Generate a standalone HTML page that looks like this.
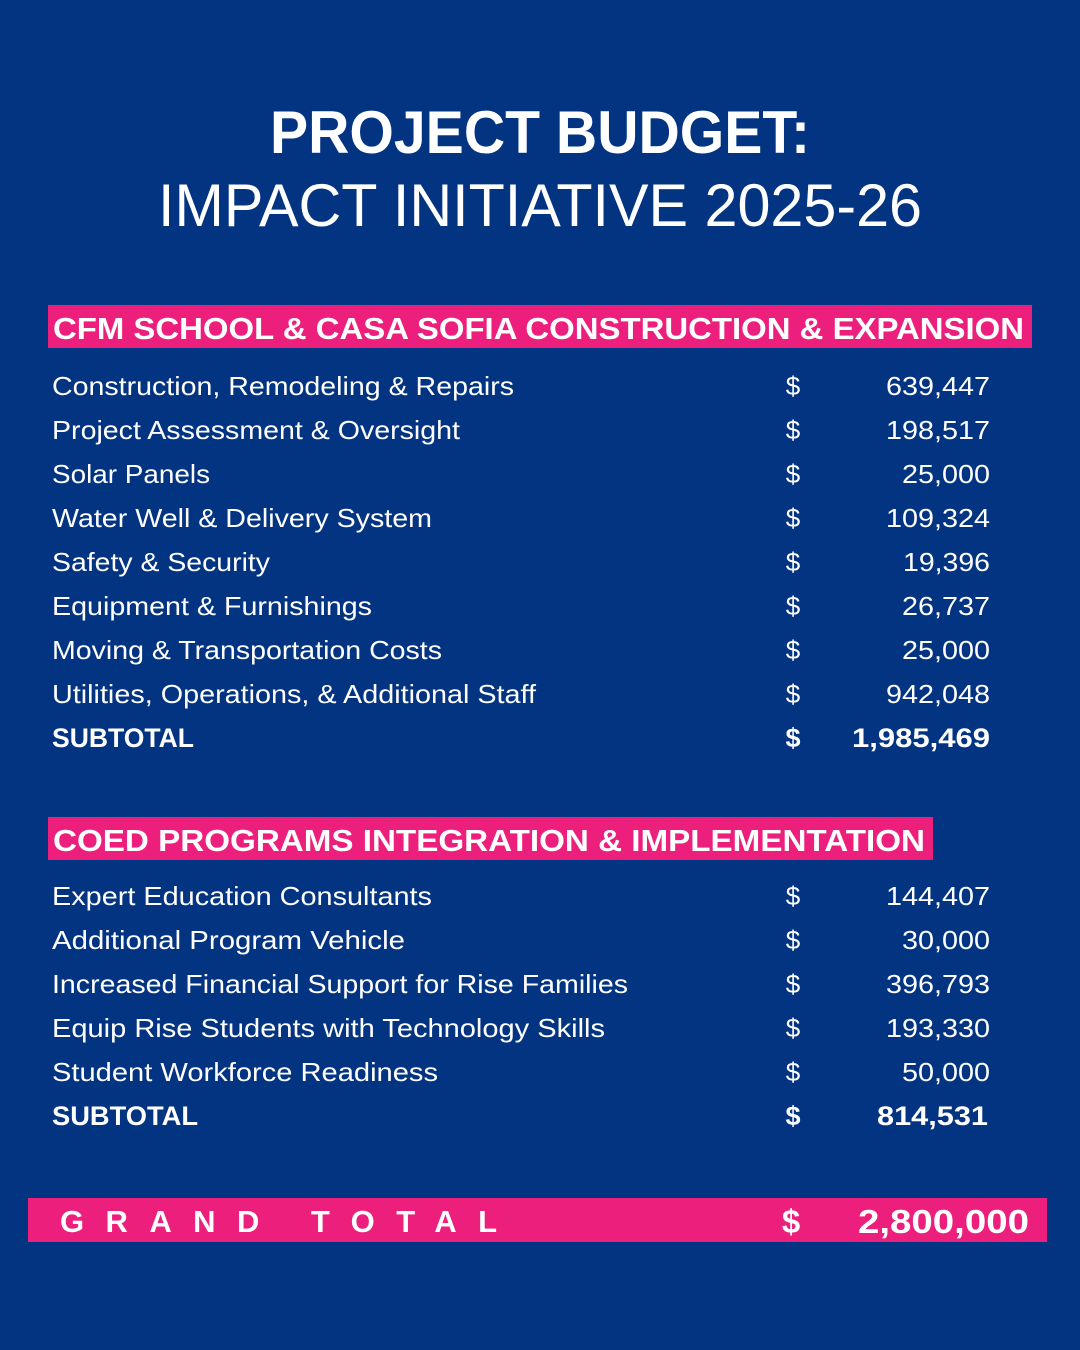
<!DOCTYPE html>
<html><head><meta charset="utf-8"><style>
html,body{margin:0;padding:0;background:#023482;}
svg{display:block}
text{font-family:"Liberation Sans",sans-serif;fill:#fff}
.r{font-size:26px}
.b{font-size:27px;font-weight:bold}
</style></head><body>
<svg width="1080" height="1350" viewBox="0 0 1080 1350">
<rect width="1080" height="1350" fill="#023482"/>
<text x="540" y="153" text-anchor="middle" font-size="60" font-weight="bold" textLength="540" lengthAdjust="spacingAndGlyphs">PROJECT BUDGET:</text>
<text x="540" y="226" text-anchor="middle" font-size="60" textLength="764" lengthAdjust="spacingAndGlyphs">IMPACT INITIATIVE 2025-26</text>

<rect x="48" y="305" width="984" height="43" fill="#EC1F7D"/>
<text x="53" y="339" font-size="31" font-weight="bold" textLength="971" lengthAdjust="spacingAndGlyphs">CFM SCHOOL &amp; CASA SOFIA CONSTRUCTION &amp; EXPANSION</text>

<g class="r">
<text x="52" y="395" textLength="462" lengthAdjust="spacingAndGlyphs">Construction, Remodeling &amp; Repairs</text>
<text x="52" y="439" textLength="408" lengthAdjust="spacingAndGlyphs">Project Assessment &amp; Oversight</text>
<text x="52" y="483" textLength="158" lengthAdjust="spacingAndGlyphs">Solar Panels</text>
<text x="52" y="527" textLength="380" lengthAdjust="spacingAndGlyphs">Water Well &amp; Delivery System</text>
<text x="52" y="571" textLength="218" lengthAdjust="spacingAndGlyphs">Safety &amp; Security</text>
<text x="52" y="615" textLength="320" lengthAdjust="spacingAndGlyphs">Equipment &amp; Furnishings</text>
<text x="52" y="659" textLength="390" lengthAdjust="spacingAndGlyphs">Moving &amp; Transportation Costs</text>
<text x="52" y="703" textLength="484" lengthAdjust="spacingAndGlyphs">Utilities, Operations, &amp; Additional Staff</text>
</g>
<text class="b" x="52" y="747" textLength="142" lengthAdjust="spacingAndGlyphs">SUBTOTAL</text>
<g class="r">
<text x="793" y="395" text-anchor="middle">$</text><text x="886" y="395" textLength="104" lengthAdjust="spacingAndGlyphs">639,447</text>
<text x="793" y="439" text-anchor="middle">$</text><text x="886" y="439" textLength="104" lengthAdjust="spacingAndGlyphs">198,517</text>
<text x="793" y="483" text-anchor="middle">$</text><text x="902" y="483" textLength="88" lengthAdjust="spacingAndGlyphs">25,000</text>
<text x="793" y="527" text-anchor="middle">$</text><text x="886" y="527" textLength="104" lengthAdjust="spacingAndGlyphs">109,324</text>
<text x="793" y="571" text-anchor="middle">$</text><text x="903" y="571" textLength="87" lengthAdjust="spacingAndGlyphs">19,396</text>
<text x="793" y="615" text-anchor="middle">$</text><text x="902" y="615" textLength="88" lengthAdjust="spacingAndGlyphs">26,737</text>
<text x="793" y="659" text-anchor="middle">$</text><text x="902" y="659" textLength="88" lengthAdjust="spacingAndGlyphs">25,000</text>
<text x="793" y="703" text-anchor="middle">$</text><text x="886" y="703" textLength="104" lengthAdjust="spacingAndGlyphs">942,048</text>
</g>
<text class="b" x="793" y="747" text-anchor="middle">$</text><text class="b" x="852" y="747" textLength="138" lengthAdjust="spacingAndGlyphs">1,985,469</text>

<rect x="48" y="817" width="885" height="43" fill="#EC1F7D"/>
<text x="53" y="851" font-size="31" font-weight="bold" textLength="872" lengthAdjust="spacingAndGlyphs">COED PROGRAMS INTEGRATION &amp; IMPLEMENTATION</text>

<g class="r">
<text x="52" y="905" textLength="380" lengthAdjust="spacingAndGlyphs">Expert Education Consultants</text>
<text x="52" y="949" textLength="353" lengthAdjust="spacingAndGlyphs">Additional Program Vehicle</text>
<text x="52" y="993" textLength="576" lengthAdjust="spacingAndGlyphs">Increased Financial Support for Rise Families</text>
<text x="52" y="1037" textLength="553" lengthAdjust="spacingAndGlyphs">Equip Rise Students with Technology Skills</text>
<text x="52" y="1081" textLength="386" lengthAdjust="spacingAndGlyphs">Student Workforce Readiness</text>
<text x="793" y="905" text-anchor="middle">$</text><text x="886" y="905" textLength="104" lengthAdjust="spacingAndGlyphs">144,407</text>
<text x="793" y="949" text-anchor="middle">$</text><text x="902" y="949" textLength="88" lengthAdjust="spacingAndGlyphs">30,000</text>
<text x="793" y="993" text-anchor="middle">$</text><text x="886" y="993" textLength="104" lengthAdjust="spacingAndGlyphs">396,793</text>
<text x="793" y="1037" text-anchor="middle">$</text><text x="886" y="1037" textLength="104" lengthAdjust="spacingAndGlyphs">193,330</text>
<text x="793" y="1081" text-anchor="middle">$</text><text x="902" y="1081" textLength="88" lengthAdjust="spacingAndGlyphs">50,000</text>
</g>
<text class="b" x="52" y="1125" textLength="146" lengthAdjust="spacingAndGlyphs">SUBTOTAL</text>
<text class="b" x="793" y="1125" text-anchor="middle">$</text><text class="b" x="877" y="1125" textLength="111" lengthAdjust="spacingAndGlyphs">814,531</text>

<rect x="28" y="1198" width="1019" height="44" fill="#EC1F7D"/>
<text x="60" y="1232" font-size="31" font-weight="bold" textLength="437" lengthAdjust="spacing">GRAND TOTAL</text>
<text x="791" y="1233" font-size="33" font-weight="bold" text-anchor="middle">$</text>
<text x="858" y="1233" font-size="33" font-weight="bold" textLength="171" lengthAdjust="spacingAndGlyphs">2,800,000</text>
</svg>
</body></html>
